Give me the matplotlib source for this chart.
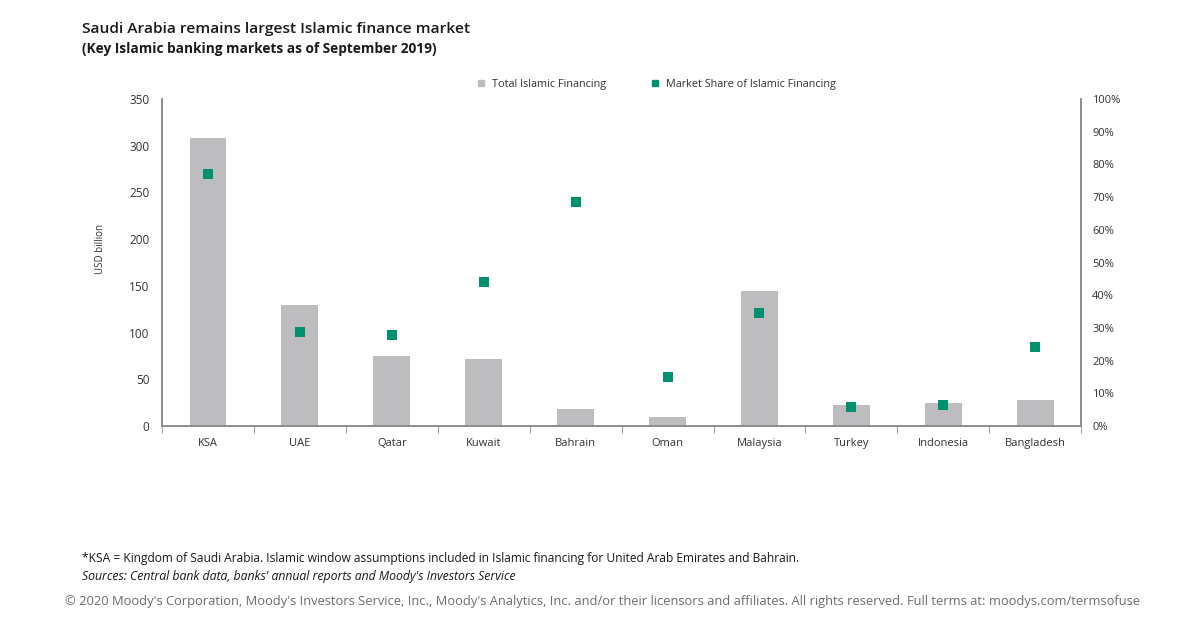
import matplotlib
matplotlib.use("Agg")
import matplotlib.pyplot as plt
from matplotlib.lines import Line2D
from matplotlib.ticker import FixedLocator, PercentFormatter
import numpy as np

# Data
countries = ["KSA", "UAE", "Qatar", "Kuwait", "Bahrain", "Oman", "Malaysia", "Turkey", "Indonesia", "Bangladesh"]
total_financing = [308, 130, 75, 72, 18, 10, 144, 23, 25, 28]  # USD billion
market_share = [77, 28.7, 27.8, 44, 68.5, 15, 34.6, 5.8, 6.4, 24.2]  # %

bar_color = "#bdbdbf"
green = "#00926e"
text_color = "#333333"
axis_color = "#8c8c8c"

plt.rcParams["font.family"] = ["Open Sans", "DejaVu Sans"]

fig = plt.figure(figsize=(12, 6.27), dpi=100)
ax = fig.add_axes([0.135, 0.3206, 0.766, 0.5214])
ax2 = ax.twinx()

x = np.arange(len(countries))
ax.bar(x, total_financing, width=0.4, color=bar_color, zorder=2)
ax2.scatter(x, market_share, marker="s", s=55, color=green, zorder=3, linewidths=0)

ax.set_xlim(-0.5, len(countries) - 0.5)
ax.set_ylim(0, 350)
ax.set_yticks(range(0, 351, 50))
ax2.set_ylim(0, 100)
ax2.set_yticks(range(0, 101, 10))
ax2.yaxis.set_major_formatter(PercentFormatter(decimals=0))

ax.set_xticks(x)
ax.set_xticklabels(countries)
ax.xaxis.set_minor_locator(FixedLocator(np.arange(-0.5, len(countries), 1.0)))
ax.tick_params(axis="x", which="major", length=0, pad=9, labelsize=8, labelcolor=text_color)
ax.tick_params(axis="x", which="minor", length=5, direction="out", color=axis_color)
ax.tick_params(axis="y", length=0, pad=9, labelsize=8.5, labelcolor=text_color)
ax2.tick_params(axis="y", length=0, pad=8, labelsize=8, labelcolor=text_color)

for a in (ax, ax2):
    a.spines["top"].set_visible(False)
    for s in ("left", "right", "bottom"):
        a.spines[s].set_color(axis_color)
        a.spines[s].set_linewidth(1.2)

ax.set_ylabel("USD billion", fontsize=7, color=text_color)
ax.yaxis.set_label_coords(-0.061, 0.54)

handles = [
    Line2D([], [], marker="s", linestyle="none", markersize=5, color=bar_color),
    Line2D([], [], marker="s", linestyle="none", markersize=5, color=green),
]
fig.legend(handles, ["Total Islamic Financing", "Market Share of Islamic Financing"],
           loc="center", bbox_to_anchor=(0.544, 0.865), ncol=2, frameon=False,
           fontsize=7.8, handletextpad=0.0, columnspacing=3.5, labelcolor=text_color)

fig.text(0.068, 0.953, "Saudi Arabia remains largest Islamic finance market",
         fontsize=11.15, fontweight="semibold", color="#1a1a1a", va="center")
fig.text(0.068, 0.922, "(Key Islamic banking markets as of September 2019)",
         fontsize=9.8, fontweight="bold", color="#1a1a1a", va="center")

fig.text(0.068, 0.109, "*KSA = Kingdom of Saudi Arabia. Islamic window assumptions included in Islamic financing for United Arab Emirates and Bahrain.",
         fontsize=8.65, color="#1a1a1a", va="center")
fig.text(0.068, 0.081, "Sources: Central bank data, banks' annual reports and Moody's Investors Service",
         fontsize=8.8, style="italic", color="#1a1a1a", va="center")
fig.text(0.054, 0.040, "\u00a9 2020 Moody's Corporation, Moody's Investors Service, Inc., Moody's Analytics, Inc. and/or their licensors and affiliates. All rights reserved. Full terms at: moodys.com/termsofuse",
         fontsize=9.25, color="#6d6d6d", va="center")

fig.savefig("out.png", dpi=100, facecolor="white")
